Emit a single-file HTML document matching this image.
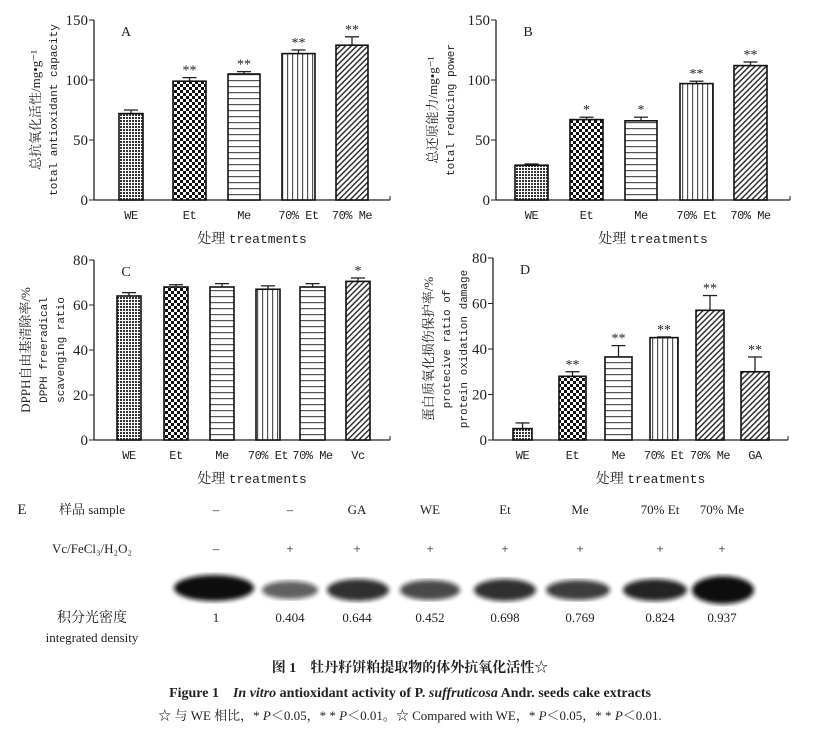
<!DOCTYPE html>
<html><head><meta charset="utf-8"><style>
body{margin:0;background:#fff;}
svg text{font-family:"Liberation Serif","Noto Serif CJK SC",serif;fill:#222;}
svg text.m, svg tspan.m{font-family:"Liberation Mono","Noto Serif CJK SC",monospace;}
</style></head><body>
<svg id="s" width="817" height="728" xmlns="http://www.w3.org/2000/svg">
<defs>
<pattern id="pWE" width="3" height="3" patternUnits="userSpaceOnUse"><rect width="3" height="3" fill="#fff"/><rect width="2" height="2" fill="#333"/></pattern>
<pattern id="pEt" width="6" height="6" patternUnits="userSpaceOnUse"><rect width="6" height="6" fill="#fff"/><rect width="3" height="3" fill="#111"/><rect x="3" y="3" width="3" height="3" fill="#111"/></pattern>
<pattern id="pMe" width="6" height="6" patternUnits="userSpaceOnUse"><rect width="6" height="6" fill="#fff"/><rect y="2" width="6" height="1.2" fill="#555"/></pattern>
<pattern id="p7E" width="5" height="5" patternUnits="userSpaceOnUse"><rect width="5" height="5" fill="#fff"/><rect x="2" width="1.2" height="5" fill="#555"/></pattern>
<pattern id="p7M" width="4" height="4" patternUnits="userSpaceOnUse" patternTransform="rotate(45)"><rect width="4" height="4" fill="#fff"/><rect width="1.5" height="4" fill="#333"/></pattern>
<filter id="bl"><feGaussianBlur stdDeviation="2.5"/></filter>
</defs>
<g id="g"></g>
</svg>
<script>
const g=document.getElementById('g');let h='';
const MONO='class="m"';
function T(x,y,t,s,a,extra){h+=`<text x="${x}" y="${y}" font-size="${s||13}" text-anchor="${a||'middle'}" ${extra||''}>${t}</text>`;}
function VT(x,y,t,s,extra){h+=`<text transform="translate(${x},${y}) rotate(-90)" font-size="${s||13}" text-anchor="middle" ${extra||''}>${t}</text>`;}
function panel(ax,top,bot,xend,max,step,bars,lab){
 const sc=(bot-top)/max;
 h+=`<line x1="${ax}" y1="${top}" x2="${ax}" y2="${bot}" stroke="#222" stroke-width="1.3"/>`;
 h+=`<line x1="${ax}" y1="${bot}" x2="${xend}" y2="${bot}" stroke="#222" stroke-width="1.3"/>`;
 h+=`<line x1="${xend}" y1="${bot}" x2="${xend}" y2="${bot-4}" stroke="#222"/>`;
 for(let v=0;v<=max;v+=step){const y=bot-v*sc;h+=`<line x1="${ax-5}" y1="${y}" x2="${ax}" y2="${y}" stroke="#222"/>`;T(ax-6,y+5,v,15,'end');}
 T(ax+32,top+16,lab,14);
 bars.forEach(b=>{const[x1,x2,v,e,p,name,star]=b;const y=bot-v*sc,ey=bot-e*sc,cx=(x1+x2)/2;
  h+=`<line x1="${cx}" y1="${y}" x2="${cx}" y2="${ey}" stroke="#222" stroke-width="1.3"/><line x1="${cx-7}" y1="${ey}" x2="${cx+7}" y2="${ey}" stroke="#222" stroke-width="1.3"/>`;
  h+=`<rect x="${x1}" y="${y}" width="${x2-x1}" height="${bot-y}" fill="url(#${p})" stroke="#111" stroke-width="1.6"/>`;
  if(star)T(cx,ey-3,star,14);
  T(cx,bot+19,name,12,'middle',MONO+' letter-spacing="-0.5"');});
 h+=`<text x="${(ax+xend)/2+10}" y="${bot+43}" font-size="14" text-anchor="middle">处理 <tspan class="m" font-size="13">treatments</tspan></text>`;
}
panel(94,20,200,390,150,50,[[119,143,72,75,'pWE','WE',''],[173,206,99,102,'pEt','Et','**'],[228,260,105,107,'pMe','Me','**'],[282,315,122,125,'p7E','70% Et','**'],[336,368,129,136,'p7M','70% Me','**']],'A');
VT(40,110,'总抗氧化活性/mg•g⁻¹',13);VT(57,110,'total antioxidant capacity',11,MONO);
panel(496,20,200,790,150,50,[[515,548,29,30,'pWE','WE',''],[570,603,67,69,'pEt','Et','*'],[625,657,66,69,'pMe','Me','*'],[680,713,97,99,'p7E','70% Et','**'],[734,767,112,115,'p7M','70% Me','**']],'B');
VT(437,110,'总还原能力/mg•g⁻¹',13);VT(454,110,'total reducing power',11,MONO);
panel(94,260,440,390,80,20,[[117,141,64,65.5,'pWE','WE',''],[164,188,68,69,'pEt','Et',''],[210,234,68,69.5,'pMe','Me',''],[256,280,67,68.5,'p7E','70% Et',''],[300,325,68,69.5,'pMe','70% Me',''],[346,370,70.5,72,'p7M','Vc','*']],'C');
VT(30,350,'DPPH自由基清除率/%',13);VT(47,350,'DPPH freeradical',11,MONO);VT(64,350,'scavenging ratio',11,MONO);
panel(493,258,440,788,80,20,[[513,532,5,7.5,'pWE','WE',''],[559,586,28,30,'pEt','Et','**'],[605,632,36.5,41.5,'pMe','Me','**'],[650,678,45,45.3,'p7E','70% Et','**'],[696,724,57,63.5,'p7M','70% Me','**'],[741,769,30,36.5,'p7M','GA','**']],'D');
VT(433,349,'蛋白质氧化损伤保护率/%',13);VT(450,349,'protecive  ratio of',11,MONO);VT(467,349,'protein oxidation damage',11,MONO);
// E
T(22,514,'E',15);T(92,514,'样品 sample',13);
const xs=[216,290,357,430,505,580,660,722];
['–','–','GA','WE','Et','Me','70% Et','70% Me'].forEach((t,i)=>T(xs[i],514,t,13));
T(92,553,'Vc/FeCl₃/H₂O₂',13);
['–','+','+','+','+','+','+','+'].forEach((t,i)=>T(xs[i],553,t,13));
const bw=[[214,40,13,1],[290,28,9,0.65],[358,31,11,0.85],[430,30,10,0.75],[505,31,11,0.85],[578,32,10,0.8],[655,32,11,0.9],[723,31,14,1]];
bw.forEach(b=>h+=`<ellipse cx="${b[0]}" cy="${b[0]==214?588:590}" rx="${b[1]}" ry="${b[2]}" fill="#111" opacity="${b[3]}" filter="url(#bl)"/>`);
T(92,622,'积分光密度',14);T(92,642,'integrated density',13);
['1','0.404','0.644','0.452','0.698','0.769','0.824','0.937'].forEach((t,i)=>T(xs[i],622,t,13));
h+=`<text x="410" y="672" font-size="14" text-anchor="middle" font-weight="bold">图 1　牡丹籽饼粕提取物的体外抗氧化活性☆</text>`;
h+=`<text x="410" y="697" font-size="14" text-anchor="middle" font-weight="bold">Figure 1　<tspan font-style="italic">In vitro</tspan> antioxidant activity of P. <tspan font-style="italic">suffruticosa</tspan> Andr. seeds cake extracts</text>`;
T(410,720,'☆ 与 WE 相比，* <tspan font-style="italic">P</tspan>＜0.05，* * <tspan font-style="italic">P</tspan>＜0.01。☆ Compared with WE，* <tspan font-style="italic">P</tspan>＜0.05，* * <tspan font-style="italic">P</tspan>＜0.01.',13);
g.innerHTML=h;
</script>
</body></html>
